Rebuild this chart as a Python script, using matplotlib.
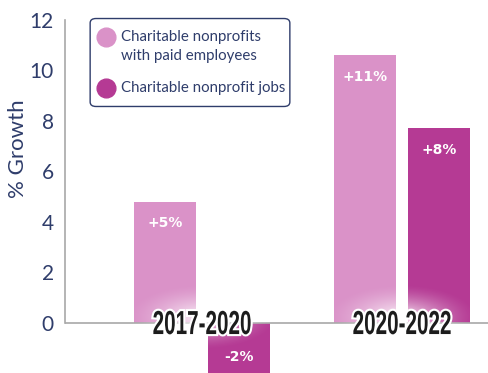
import matplotlib.pyplot as plt
import matplotlib.patheffects as pe
from matplotlib.lines import Line2D
from matplotlib.patches import FancyBboxPatch, PathPatch
from matplotlib.textpath import TextPath
from matplotlib.font_manager import FontProperties
from matplotlib.transforms import Affine2D
import numpy as np

periods = ["2017-2020", "2020-2022"]
orgs_growth = [4.8, 10.6]
jobs_growth = [-2.0, 7.7]
orgs_labels = ["+5%", "+11%"]
jobs_labels = ["-2%", "+8%"]
series_lines = [["Charitable nonprofits", "with paid employees"],
                ["Charitable nonprofit jobs"]]

pink = "#da92c8"
magenta = "#b53a94"
navy = "#2f3d6b"
grey = "#a8a8a8"

plt.rcParams['font.family'] = ['Lato', 'DejaVu Sans']

W, H = 488, 373
fig = plt.figure(figsize=(W / 100, H / 100), dpi=100)
ax = fig.add_axes([65 / W, 0, 423 / W, 353 / H])

x = np.arange(len(periods))
w = 0.31
off = 0.185
ax.bar(x - off, orgs_growth, w, color=pink, zorder=2)
ax.bar(x + off, jobs_growth, w, color=magenta, zorder=2)

for xi, v, lab in zip(x - off, orgs_growth, orgs_labels):
    ax.text(xi, v - 0.87, lab, ha='center', va='center', color='white',
            fontsize=10, fontweight='bold', family='DejaVu Sans', zorder=4)
for xi, v, lab in zip(x + off, jobs_growth, jobs_labels):
    y = v - 0.87 if v > 0 else -1.35
    ax.text(xi, y, lab, ha='center', va='center', color='white',
            fontsize=10, fontweight='bold', family='DejaVu Sans', zorder=4)

ax.axhline(0, color=grey, lw=1.2, zorder=3)

# soft white glow behind each period name
gx, gy = np.meshgrid(np.linspace(-1, 1, 200), np.linspace(-1, 1, 100))
glow = np.zeros((100, 200, 4))
glow[..., :3] = 1.0
glow[..., 3] = np.clip(1 - np.hypot(gx, gy), 0, 1) ** 1.5 * 0.9
for xi in x:
    ax.imshow(glow, extent=(xi - 0.38, xi + 0.38, -1.1, 1.5), aspect='auto',
              zorder=3.5, interpolation='bilinear')

ax.set_xlim(-0.685, 1.43)
ax.set_ylim(-2, 12)
ax.set_yticks(range(0, 13, 2))
ax.tick_params(axis='y', length=0, labelsize=15, labelcolor=navy, pad=8)
ax.set_xticks([])
for s in ['top', 'right', 'bottom']:
    ax.spines[s].set_visible(False)
ax.spines['left'].set_color(grey)
ax.spines['left'].set_linewidth(1.2)
ax.spines['left'].set_bounds(0, 12)
ax.set_ylabel("% Growth", color=navy, fontsize=16)
ax.yaxis.set_label_coords(-0.088, 0.635)


# condensed period names: squeeze the glyph outlines horizontally
def narrow_text(xd, yd, s, size=24, squeeze=0.62):
    tp = TextPath((0, 0), s, size=size,
                  prop=FontProperties(family='Liberation Sans', weight='bold'))
    bb = tp.get_extents()
    px, py = ax.transData.transform((xd, yd))
    k = fig.dpi / 72
    tr = (Affine2D().translate(-(bb.x0 + bb.x1) / 2, -(bb.y0 + bb.y1) / 2)
          .scale(squeeze * k, k).translate(px, py))
    patch = PathPatch(tp, transform=tr, facecolor='#1c1c1c', edgecolor='none',
                      zorder=5, clip_on=False,
                      path_effects=[pe.withStroke(linewidth=3, foreground='white')])
    ax.add_artist(patch)


for xi, name in zip(x, periods):
    narrow_text(xi, 0, name)


# legend box, placed in figure pixels
def fx(px):
    return px / W


def fy(py):
    return 1 - py / H


box = FancyBboxPatch((fx(96), fy(102)), fx(188), 79 / H,
                     boxstyle="round,pad=0.012,rounding_size=0.012",
                     transform=fig.transFigure, facecolor='white', edgecolor=navy,
                     lw=1.0, zorder=6)
fig.add_artist(box)
for cy, col, lines in [(37, pink, series_lines[0]), (88, magenta, series_lines[1])]:
    fig.add_artist(Line2D([fx(106)], [fy(cy)], marker='o', ls='', markersize=13.5,
                          color=col, transform=fig.transFigure, zorder=7))
    for i, line in enumerate(lines):
        fig.text(fx(121), fy(cy + 19 * i), line, ha='left', va='center',
                 color=navy, fontsize=10.8, zorder=7)

fig.savefig("out.png", dpi=100)
